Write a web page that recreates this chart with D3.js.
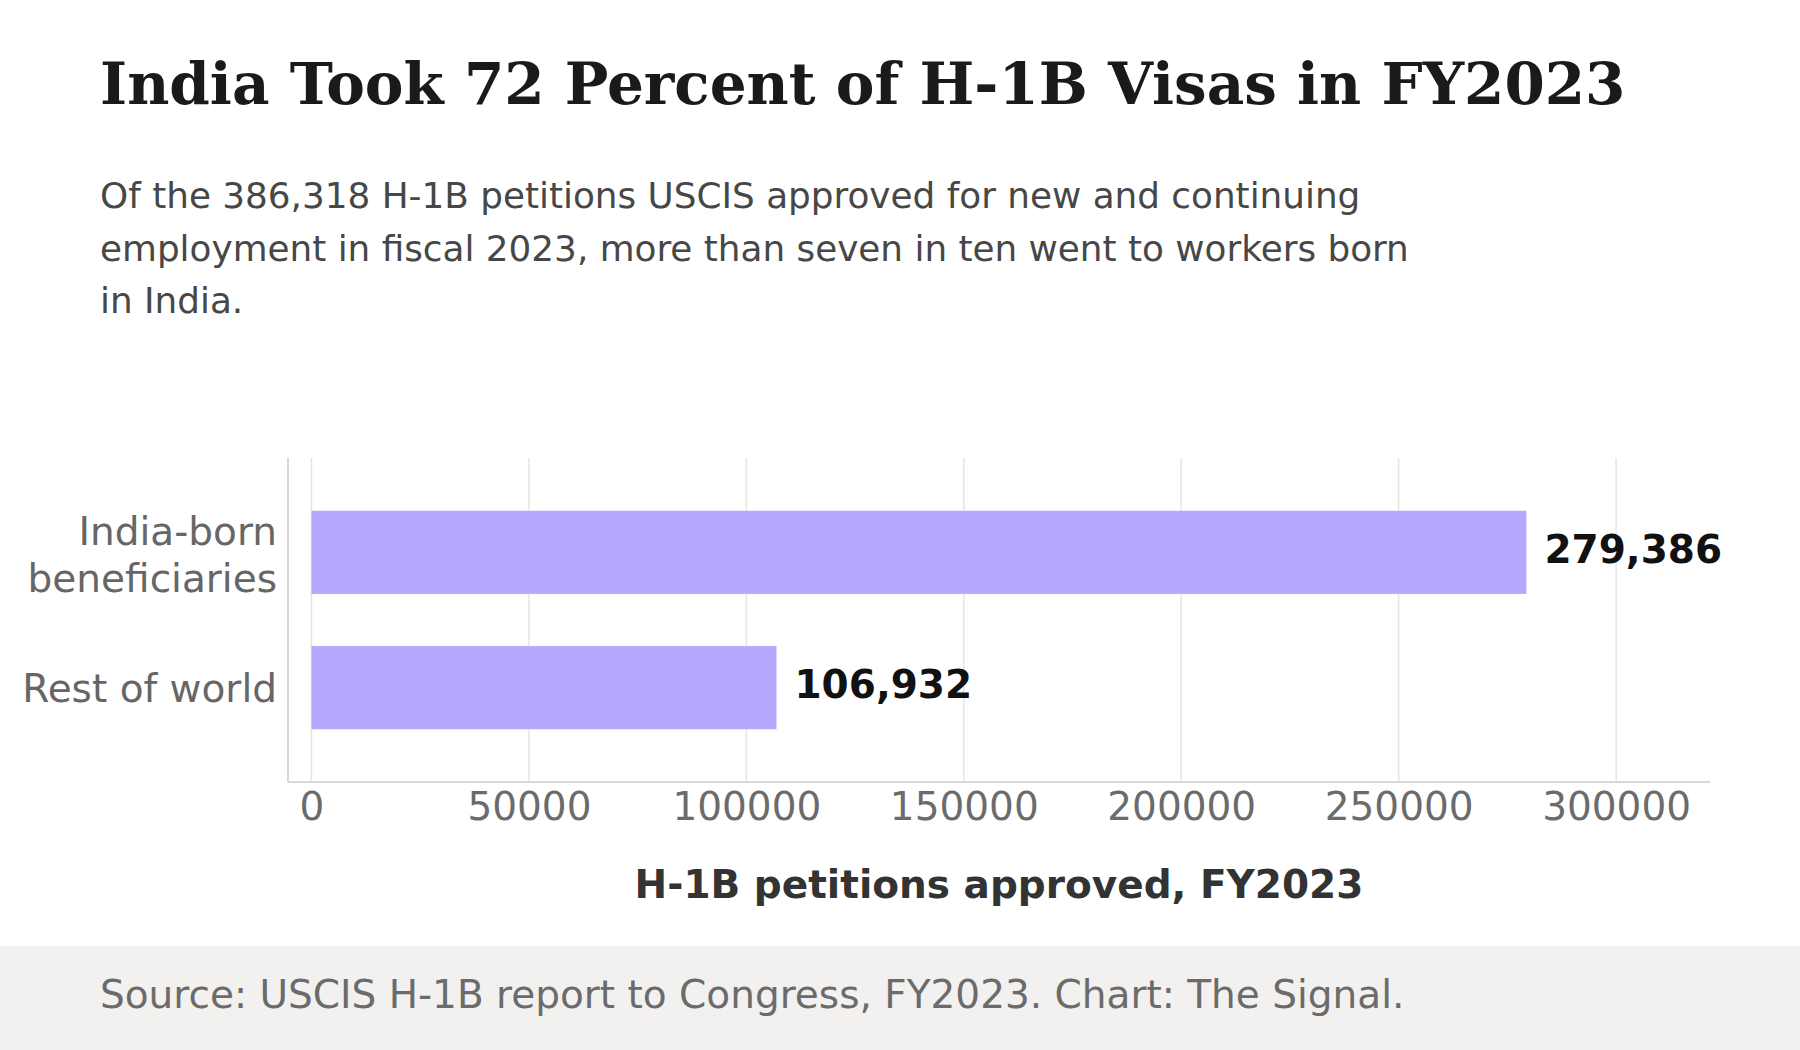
<!DOCTYPE html>
<html>
<head>
<meta charset="utf-8">
<script src="https://cdn.jsdelivr.net/npm/d3@7/dist/d3.min.js"></script>
<style>
  html, body { margin: 0; padding: 0; background: #fff; }
  svg { display: block; }
</style>
</head>
<body>
<div id="chart"></div>
<script>
// data
const categories = [["India-born", "beneficiaries"], ["Rest of world"]];
const values = [279386, 106932];
const xTicks = [0, 50000, 100000, 150000, 200000, 250000, 300000];
const xDomain = [-5400, 321600];

const titleText = "India Took 72 Percent of H-1B Visas in FY2023";
const subtitleLines = [
  "Of the 386,318 H-1B petitions USCIS approved for new and continuing",
  "employment in fiscal 2023, more than seven in ten went to workers born",
  "in India."
];
const axisTitle = "H-1B petitions approved, FY2023";
const sourceText = "Source: USCIS H-1B report to Congress, FY2023. Chart: The Signal.";

const width = 1800;
const height = 1050;
const sans = "'DejaVu Sans', Verdana, sans-serif";
const serif = "'DejaVu Serif', Georgia, serif";
const fs = 39;

const plot = { left: 288, right: 1710, top: 458, bottom: 782 };

const svg = d3
  .select("#chart")
  .append("svg")
  .attr("width", width)
  .attr("height", height)
  .attr("viewBox", `0 0 ${width} ${height}`);

svg.append("rect").attr("width", width).attr("height", height).attr("fill", "#ffffff");

// title + subtitle
svg
  .append("text")
  .attr("x", 100)
  .attr("y", 104)
  .attr("font-family", serif)
  .attr("font-weight", "bold")
  .attr("font-size", 58)
  .attr("fill", "#1a1a1a")
  .text(titleText);

svg
  .append("text")
  .attr("font-family", sans)
  .attr("font-size", 35.8)
  .attr("fill", "#474747")
  .selectAll("tspan")
  .data(subtitleLines)
  .join("tspan")
  .attr("x", 100)
  .attr("y", (d, i) => 208 + i * 52.5)
  .text((d) => d);

// scales
const x = d3.scaleLinear().domain(xDomain).range([plot.left, plot.right]);
const y = d3
  .scaleBand()
  .domain(d3.range(values.length))
  .range([plot.top, plot.bottom])
  .paddingInner(0.385)
  .paddingOuter(0.39);

// grid
svg
  .append("g")
  .selectAll("line")
  .data(xTicks)
  .join("line")
  .attr("x1", (d) => x(d))
  .attr("x2", (d) => x(d))
  .attr("y1", plot.top)
  .attr("y2", plot.bottom)
  .attr("stroke", "#e6e5e1")
  .attr("stroke-width", 1.5);

// bars
svg
  .append("g")
  .selectAll("rect")
  .data(values)
  .join("rect")
  .attr("x", x(0))
  .attr("y", (d, i) => y(i))
  .attr("width", (d) => x(d) - x(0))
  .attr("height", y.bandwidth())
  .attr("fill", "#b7a8fd");

// value labels
svg
  .append("g")
  .selectAll("text")
  .data(values)
  .join("text")
  .attr("x", (d) => x(d) + 18)
  .attr("y", (d, i) => y(i) + y.bandwidth() / 2)
  .attr("dy", "0.27em")
  .attr("font-family", sans)
  .attr("font-weight", "bold")
  .attr("font-size", fs)
  .attr("fill", "#111111")
  .text((d) => d3.format(",")(d));

// axes lines
svg
  .append("line")
  .attr("x1", plot.left)
  .attr("x2", plot.left)
  .attr("y1", plot.top)
  .attr("y2", plot.bottom)
  .attr("stroke", "#d9d8d4")
  .attr("stroke-width", 2);

const xAxis = d3.axisBottom(x).tickValues(xTicks).tickFormat(d3.format("d")).tickSize(0).tickPadding(38);

const xg = svg.append("g").attr("transform", `translate(0,${plot.bottom})`).call(xAxis);
xg.select(".domain").remove();
xg.selectAll("text")
  .attr("font-family", sans)
  .attr("font-size", fs)
  .attr("fill", "#6b6b6b")
  .attr("dy", 0);

svg
  .append("line")
  .attr("x1", plot.left)
  .attr("x2", plot.right)
  .attr("y1", plot.bottom)
  .attr("y2", plot.bottom)
  .attr("stroke", "#d9d8d4")
  .attr("stroke-width", 2);

// category labels
const catLabels = svg
  .append("g")
  .selectAll("text")
  .data(categories)
  .join("text")
  .attr("font-family", sans)
  .attr("font-size", fs)
  .attr("fill", "#666666")
  .attr("text-anchor", "end")
  .attr("y", (d, i) => y(i) + y.bandwidth() / 2);

catLabels
  .selectAll("tspan")
  .data((d) => d.map((line, j) => ({ line, j, n: d.length })))
  .join("tspan")
  .attr("x", plot.left - 11)
  .attr("dy", (d) => (d.j === 0 ? `${0.36 - (d.n - 1) * 0.54}em` : "1.2em"))
  .text((d) => d.line);

// axis title
svg
  .append("text")
  .attr("x", (plot.left + plot.right) / 2)
  .attr("y", 898)
  .attr("text-anchor", "middle")
  .attr("font-family", sans)
  .attr("font-weight", "bold")
  .attr("font-size", fs)
  .attr("fill", "#333333")
  .text(axisTitle);

// footer
svg
  .append("rect")
  .attr("x", 0)
  .attr("y", 946)
  .attr("width", width)
  .attr("height", height - 946)
  .attr("fill", "#f2f1ef");

svg
  .append("text")
  .attr("x", 100)
  .attr("y", 1008)
  .attr("font-family", sans)
  .attr("font-size", fs)
  .attr("fill", "#6b6b6b")
  .text(sourceText);
</script>
</body>
</html>
